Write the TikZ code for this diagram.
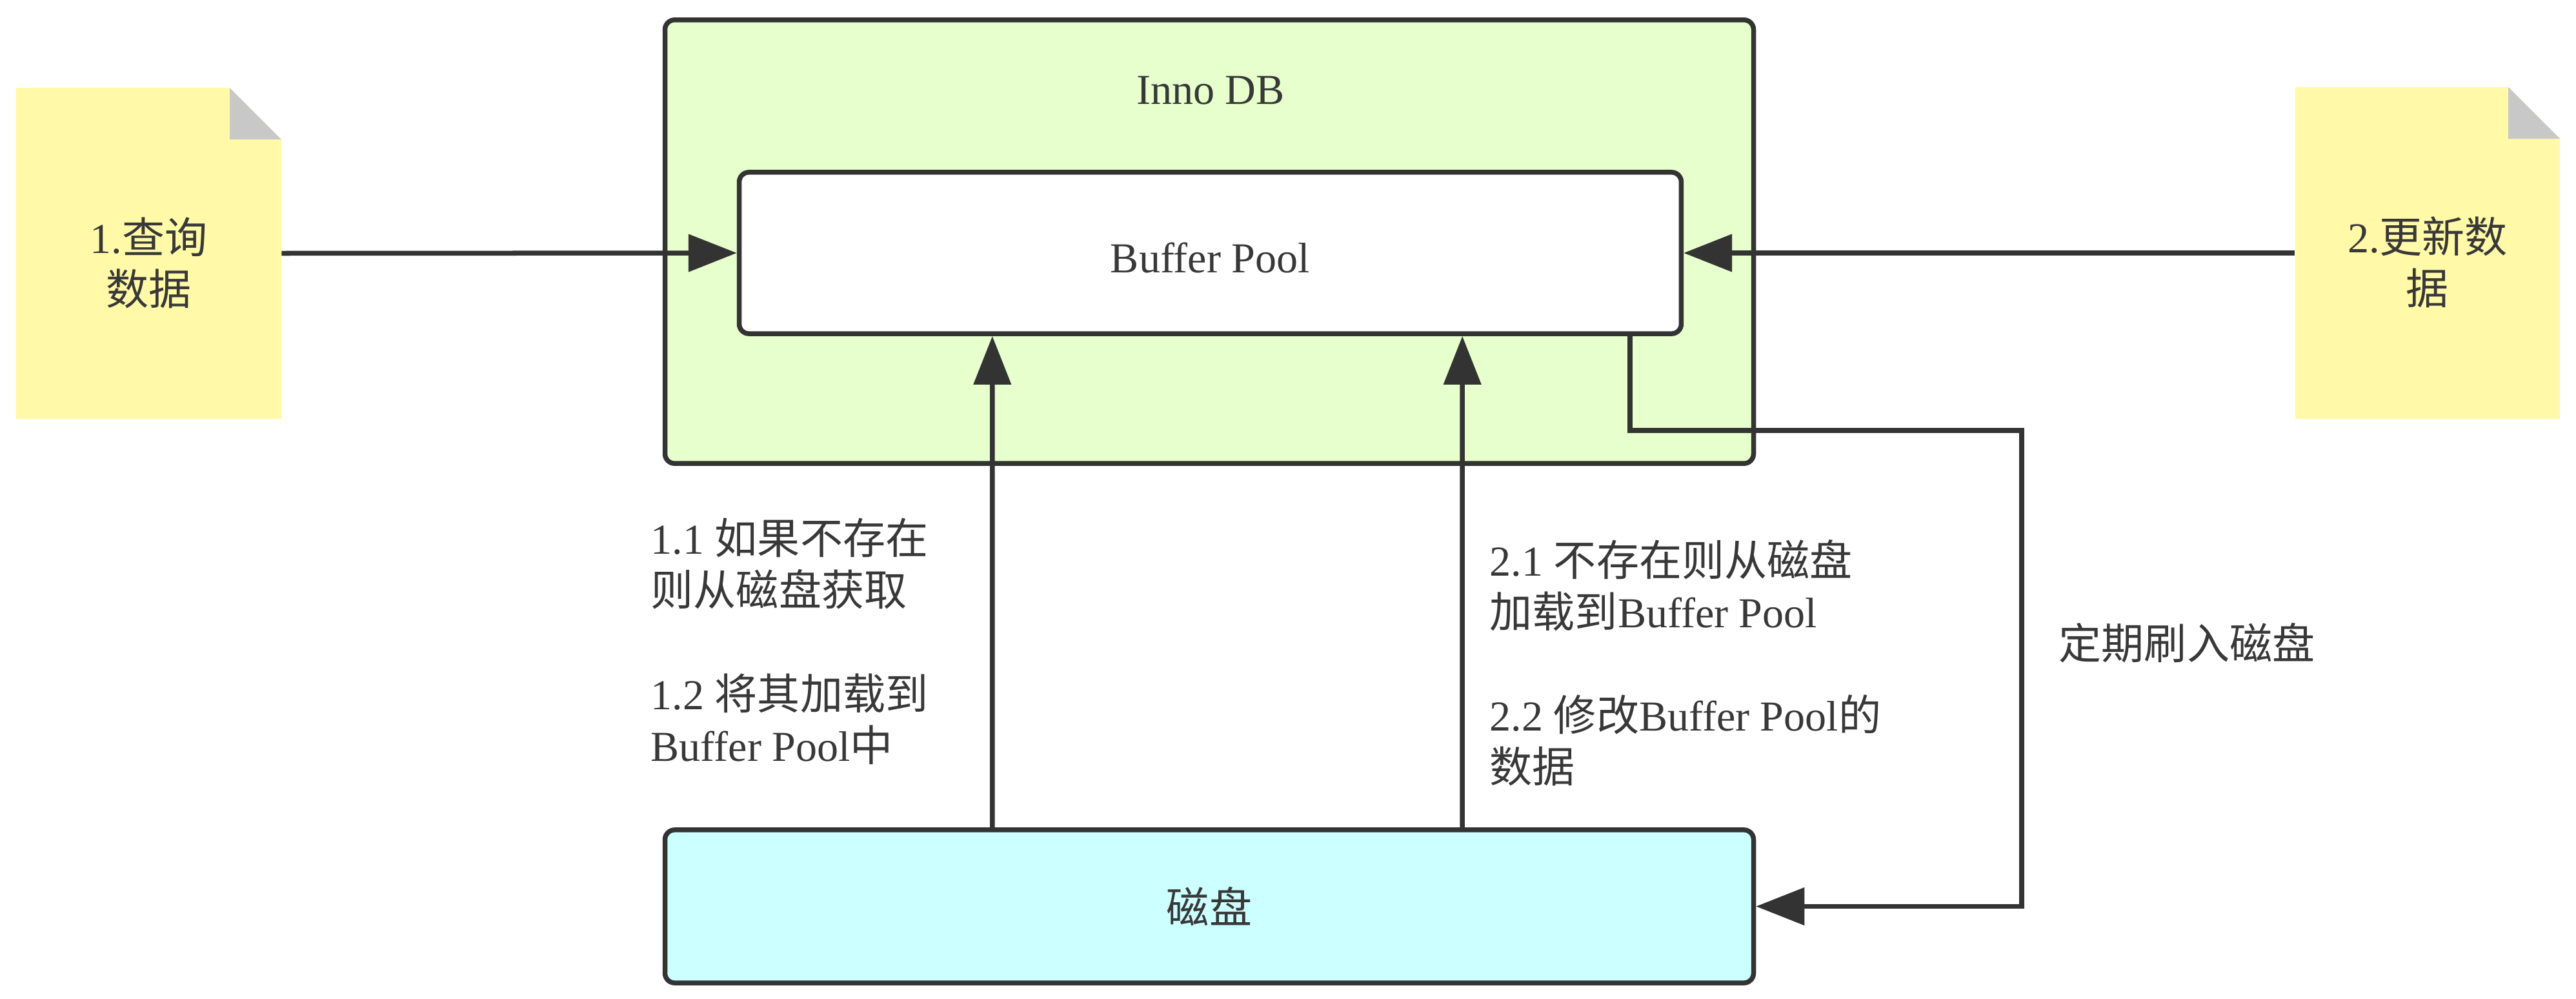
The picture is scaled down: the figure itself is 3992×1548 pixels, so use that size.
\documentclass[tikz,border=0pt]{standalone}
\usepackage{fontspec}
\setmainfont{Liberation Serif}
\newfontfamily\cjk{Noto Sans CJK SC}
\usetikzlibrary{arrows.meta}
\newcommand{\zhtxt}[1]{{\cjk #1}}
\definecolor{linec}{HTML}{333333}
\definecolor{txtc}{HTML}{383838}
\definecolor{innofill}{HTML}{E6FFCC}
\definecolor{diskfill}{HTML}{CCFFFF}
\definecolor{notefill}{HTML}{FFF9A8}
\definecolor{foldfill}{HTML}{C8C8C8}
\begin{document}
\begin{tikzpicture}[x=0.01cm,y=-0.01cm,
  every node/.style={font=\fontsize{18.8pt}{22.8pt}\selectfont, text=txtc},
  box/.style={draw=linec, line width=0.075cm, rounded corners=0.15cm, inner sep=0pt},
  conn/.style={draw=linec, line width=0.075cm, -{Triangle[length=0.75cm,width=0.57cm]}},
  notetext/.style={align=center, minimum width=4.1cm, minimum height=5.14cm, inner sep=0pt},
  lbl/.style={align=left, inner sep=0pt, anchor=west}]
\useasboundingbox[fill=white] (0,0) rectangle (3992,1548);

% InnoDB container
\node[box, fill=innofill, minimum width=16.86cm, minimum height=6.87cm] (inno) at (1874,374.5) {};
\node (innot) at (1876,140) {Inno DB};
% Buffer Pool
\node[box, fill=white, minimum width=14.59cm, minimum height=2.50cm] (bp) at (1875.5,392) {\rule{0pt}{0.62cm}Buffer Pool};
% Disk
\node[box, fill=diskfill, minimum width=16.86cm, minimum height=2.37cm] (disk) at (1874,1404.5) {\zhtxt{磁盘}};

% left note
\fill[notefill] (25,136) -- (356,136) -- (436,216) -- (436,649) -- (25,649) -- cycle;
\fill[foldfill] (356,136) -- (356,216) -- (436,216) -- cycle;
\node[notetext] (q) at (230.5,392.5) {\rule{0pt}{0.85cm}1.\zhtxt{查询}\\\zhtxt{数据}};
% right note
\fill[notefill] (3557,135) -- (3887,135) -- (3967,215) -- (3967,649) -- (3557,649) -- cycle;
\fill[foldfill] (3887,135) -- (3887,215) -- (3967,215) -- cycle;
\node[notetext] (u) at (3762,392) {\rule{0pt}{0.85cm}2.\zhtxt{更新数}\\\zhtxt{据}};

% connectors
\draw[conn] (q.east) -- (bp.west);
\draw[conn] (u.west) -- (bp.east);
\draw[conn] ([xshift=-3.36cm]disk.north) -- ([xshift=-3.375cm]bp.south);
\draw[conn] ([xshift=3.92cm]disk.north) -- ([xshift=3.905cm]bp.south);
\coordinate (fc) at (3133,667);
\draw[conn] ([xshift=6.5cm]bp.south) |- (fc) |- (disk.east);

% labels
\node[lbl] (l1) at (1008,994) {1.1 \zhtxt{如果不存在}\\\zhtxt{则从磁盘获取}\\\mbox{}\\1.2 \zhtxt{将其加载到}\\Buffer Pool\zhtxt{中}};
\node[lbl] (l2) at (2308,1027) {2.1 \zhtxt{不存在则从磁盘}\\\zhtxt{加载到}Buffer Pool\\\mbox{}\\2.2 \zhtxt{修改}Buffer Pool\zhtxt{的}\\\zhtxt{数据}};
\node[lbl] (l3) at (3190,996) {\zhtxt{定期刷入磁盘}};
\end{tikzpicture}
\end{document}
